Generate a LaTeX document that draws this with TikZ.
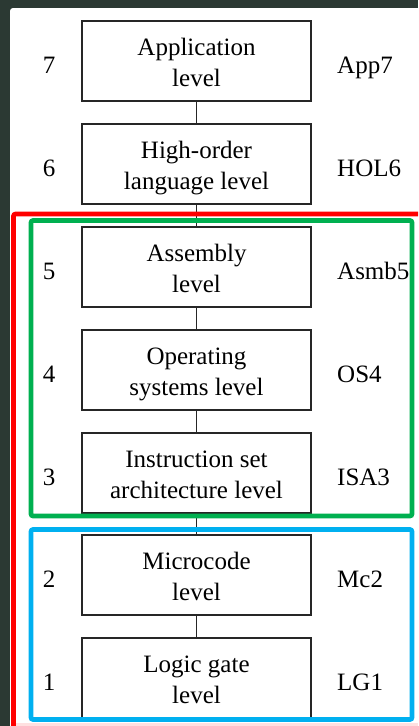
\documentclass[tikz,border=0pt]{standalone}
\usepackage{fontspec}
\setmainfont{Liberation Serif}
\definecolor{pagebg}{RGB}{43,57,51}
\definecolor{frameRed}{RGB}{255,0,0}
\definecolor{frameGreen}{RGB}{0,176,80}
\definecolor{frameBlue}{RGB}{0,176,240}
% struts giving every two-line box label the same vertical extent
\newcommand\lvtop{\rule{0pt}{26pt}}
\newcommand\lvbot{\rule[-6pt]{0pt}{6pt}}
\begin{document}
\begin{tikzpicture}[x=1pt,y=-1pt,
  levelbox/.style={draw=black!85, line width=1.3pt, minimum width=229pt,
    minimum height=80pt, align=center, inner sep=0pt,
    font=\fontsize{25}{31}\selectfont},
  numlabel/.style={anchor=base, inner sep=0pt, font=\fontsize{25}{31}\selectfont},
  tagname/.style={anchor=base west, inner sep=0pt, font=\fontsize{25}{31}\selectfont},
  link/.style={draw=black!85, line width=1pt},
  frame/.style={line width=4.6pt, rounded corners=2pt}]
\useasboundingbox (0,0) rectangle (418,726);
\clip (0,0) rectangle (418,726);
% window background and page
\fill[pagebg] (0,0) rectangle (418,726);
\fill[white, rounded corners=3pt] (10,8) rectangle (440,760);
\fill[frameRed!12] (16,723) rectangle (418,726);

% level boxes, top to bottom
\node[levelbox] (l7) at (196.5,61)  {\lvtop Application\\level\lvbot};
\node[levelbox] (l6) at (196.5,164) {\lvtop High-order\\language level\lvbot};
\node[levelbox] (l5) at (196.5,267) {\lvtop Assembly\\level\lvbot};
\node[levelbox] (l4) at (196.5,370) {\lvtop Operating\\systems level\lvbot};
\node[levelbox] (l3) at (196.5,473) {\lvtop Instruction set\\architecture level\lvbot};
\node[levelbox] (l2) at (196.5,575) {\lvtop Microcode\\level\lvbot};
\node[levelbox] (l1) at (196.5,678) {\lvtop Logic gate\\level\lvbot};

% connectors between adjacent levels
\draw[link] (l7.south) -- (l6.north);
\draw[link] (l6.south) -- (l5.north);
\draw[link] (l5.south) -- (l4.north);
\draw[link] (l4.south) -- (l3.north);
\draw[link] (l3.south) -- (l2.north);
\draw[link] (l2.south) -- (l1.north);

% level numbers
\node[numlabel] (n7) at (49,73)  {7};
\node[numlabel] (n6) at (49,176) {6};
\node[numlabel] (n5) at (49,279) {5};
\node[numlabel] (n4) at (49,382) {4};
\node[numlabel] (n3) at (49,485) {3};
\node[numlabel] (n2) at (49,587) {2};
\node[numlabel] (n1) at (49,690) {1};

% level abbreviations
\node[tagname] (t7) at (337,73)  {App7};
\node[tagname] (t6) at (337,176) {HOL6};
\node[tagname] (t5) at (337,279) {Asmb5};
\node[tagname] (t4) at (337,382) {OS4};
\node[tagname] (t3) at (337,485) {ISA3};
\node[tagname] (t2) at (337,587) {Mc2};
\node[tagname] (t1) at (337,690) {LG1};

% grouping frames
\draw[frame, draw=frameRed] (13.5,760) -- (13.5,214) -- (440,214);
\draw[frame, draw=frameGreen] (31,220.5) rectangle (412,516);
\draw[frame, draw=frameBlue] (31,529.5) rectangle (412,719.5);
\end{tikzpicture}
\end{document}
